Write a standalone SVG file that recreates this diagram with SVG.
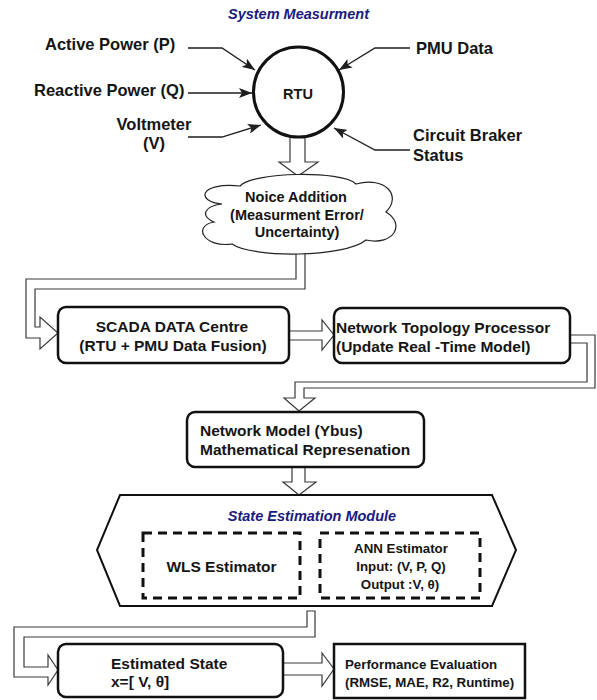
<svg xmlns="http://www.w3.org/2000/svg" width="597" height="700" viewBox="0 0 597 700">
  <style>
    text { font-family: "Liberation Sans", Arial, sans-serif; font-weight: bold; fill: #151515; }
    .lbl { font-size: 16.5px; }
    .box-t { font-size: 15.5px; }
    .sm { font-size: 13.3px; }
    .title { font-size: 14.5px; font-style: italic; fill: #1a1a80; }
    .c { text-anchor: middle; }
    .wire { fill: none; stroke: #1e1e1e; stroke-width: 1.3; marker-end: url(#head); }
    .hollow { fill: #ffffff; stroke: #3a3a3a; stroke-width: 1.2; stroke-linejoin: miter; }
    .box { fill: #ffffff; stroke: #111; stroke-width: 2.5; }
    .dash { fill: none; stroke: #111; stroke-width: 3; stroke-dasharray: 9 6; }
  </style>
  <defs>
    <marker id="head" viewBox="0 0 13 10" refX="13" refY="5" markerWidth="13" markerHeight="10" markerUnits="userSpaceOnUse" orient="auto">
      <path d="M0,0 L13,5 L0,10 L3,5 Z" fill="#1e1e1e"/>
    </marker>
  </defs>

  <rect width="597" height="700" fill="#ffffff"/>

  <text class="title c" x="298.5" y="19">System Measurment</text>

  <!-- connectors -->
  <g id="connectors">
    <path class="wire" d="M188,48 H222 L255,70"/>
    <path class="wire" d="M188,93 H252"/>
    <path class="wire" d="M188,137 H222 L261,125"/>
    <path class="wire" d="M410,48 H375 L339,70"/>
    <path class="wire" d="M410,150 H375 L334,128"/>

    <!-- RTU -> noise -->
    <polygon class="hollow" points="290,130 290,162 279,162 298,176 318,162 305,162 305,130"/>
    <!-- noise -> SCADA -->
    <polygon class="hollow" points="305,246 305,289 35,289 35,327 40,327 40,317 58,333 40,349 40,338 26,338 26,279 296,279 296,246"/>
    <!-- SCADA -> topology -->
    <polygon class="hollow" points="289,331 322,331 322,320 334,335 322,350 322,340 289,340"/>
    <!-- topology -> network model -->
    <polygon class="hollow" points="570,335 595,335 595,388 304,388 304,398 315,398 299,411 284,398 295,398 295,382 587,382 587,343 570,343"/>
    <!-- network model -> state estimation -->
    <polygon class="hollow" points="292,467 292,482 283,482 299,495 316,482 305,482 305,467"/>
    <!-- state estimation -> estimated state -->
    <polygon class="hollow" points="307,611 315,611 315,637 24,637 24,667 48,667 48,655 58,670 48,685 48,677 14,677 14,627 307,627"/>
    <!-- estimated state -> performance -->
    <polygon class="hollow" points="283,663 322,663 322,653 334,669 322,686 322,675 283,675"/>
  </g>

  <!-- measurement labels -->
  <g id="inputs">
    <text class="lbl" x="45" y="50">Active Power (P)</text>
    <text class="lbl" x="34" y="96">Reactive Power (Q)</text>
    <text class="lbl c" x="154" y="130">Voltmeter</text>
    <text class="lbl c" x="154" y="149">(V)</text>
    <text class="lbl" x="416" y="54">PMU Data</text>
    <text class="lbl" x="413" y="141">Circuit Braker</text>
    <text class="lbl" x="413" y="161">Status</text>
  </g>

  <g id="rtu">
    <circle cx="298.5" cy="92" r="45" fill="#ffffff" stroke="#111" stroke-width="3"/>
    <text class="c" x="298" y="99" style="font-size:14.5px">RTU</text>
  </g>

  <g id="noise">
    <path d="M222,204 C196,202 198,182 240,186 C252,172 342,170 356,184 C386,176 402,196 386,212 C406,224 394,246 366,240 C344,258 252,258 232,244 C204,248 192,226 214,222 C200,216 204,206 222,204 Z" fill="#ffffff" stroke="#222" stroke-width="1.2"/>
    <text class="c" x="296" y="202" style="font-size:14.5px">Noice Addition</text>
    <text class="c" x="297" y="220" style="font-size:14.5px">(Measurment Error/</text>
    <text class="c" x="297" y="237" style="font-size:14.5px">Uncertainty)</text>
  </g>

  <g id="scada">
    <rect class="box" x="58" y="307" width="231" height="56" rx="8"/>
    <text class="box-t c" x="172" y="332">SCADA DATA Centre</text>
    <text class="box-t c" x="173" y="351">(RTU + PMU Data Fusion)</text>
  </g>

  <g id="topology">
    <rect class="box" x="334" y="308" width="236" height="55" rx="8"/>
    <text class="box-t" x="336" y="333">Network Topology Processor</text>
    <text class="box-t" x="336" y="352">(Update Real -Time Model)</text>
  </g>

  <g id="network-model">
    <rect class="box" x="187" y="412" width="237" height="55" rx="8"/>
    <text class="box-t" x="200" y="436">Network Model (Ybus)</text>
    <text class="box-t" x="200" y="455">Mathematical Represenation</text>
  </g>

  <g id="state-estimation">
    <polygon points="120,495 492,495 516,550 492,606 120,606 97,550" fill="#ffffff" stroke="#111" stroke-width="2"/>
    <text class="title c" x="312" y="521">State Estimation Module</text>
  </g>

  <g id="wls">
    <rect class="dash" x="143" y="533" width="157" height="65"/>
    <text class="box-t c" x="221.5" y="572">WLS Estimator</text>
  </g>

  <g id="ann">
    <rect class="dash" x="320" y="533" width="160" height="65"/>
    <text class="sm c" x="401" y="553">ANN Estimator</text>
    <text class="sm c" x="401" y="571">Input: (V, P, Q)</text>
    <text class="sm c" x="400" y="589">Output :V, θ)</text>
  </g>

  <g id="estimated-state">
    <rect class="box" x="58" y="644" width="225" height="53" rx="8"/>
    <text class="box-t" x="111" y="669">Estimated State</text>
    <text class="box-t" x="111" y="687">x=[ V, θ]</text>
  </g>

  <g id="performance">
    <rect class="box" x="334" y="644" width="191" height="54"/>
    <text class="sm" x="345" y="669">Performance Evaluation</text>
    <text class="sm" x="345" y="687">(RMSE, MAE, R2, Runtime)</text>
  </g>
</svg>
